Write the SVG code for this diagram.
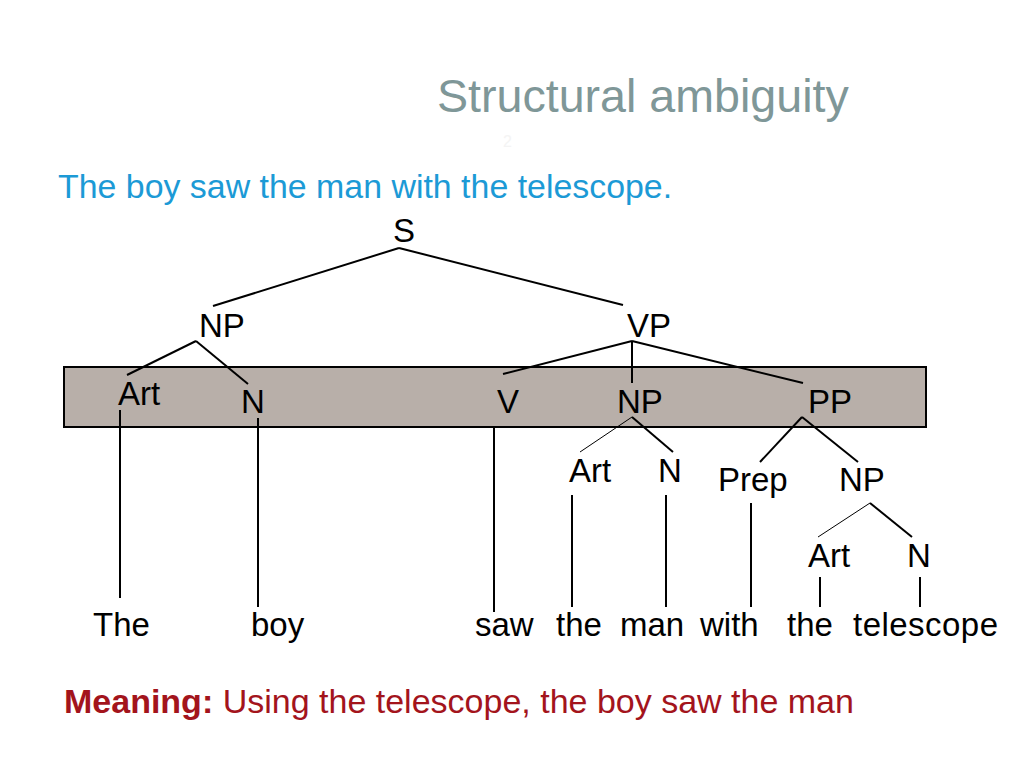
<svg xmlns="http://www.w3.org/2000/svg" width="1024" height="768" viewBox="0 0 1024 768">
<style>
text{font-family:"Liberation Sans",Arial,sans-serif}
.lbl{font-size:33px;fill:#000}
.word{font-size:33px;fill:#000}
.e{stroke:#000;stroke-width:2;fill:none}
.thin{stroke:#000;stroke-width:1;fill:none}
</style>
<rect width="1024" height="768" fill="#fff"/>
<text x="437" y="112" font-size="46.6" fill="#7F9798">Structural ambiguity</text>
<text x="503" y="147" font-size="16" fill="#f4f4f4">2</text>
<text x="58" y="198" font-size="33.9" fill="#1C9AD6">The boy saw the man with the telescope.</text>
<rect id="band" x="64" y="367" width="862" height="60" fill="#B8AFA9" stroke="#000" stroke-width="2"/>
<g id="connectors">
<line class="e" x1="399" y1="248" x2="213" y2="306"/>
<line class="e" x1="399" y1="248" x2="623" y2="305"/>
<line class="e" x1="196" y1="341" x2="127" y2="375"/>
<line class="e" x1="196" y1="341" x2="248" y2="384"/>
<line class="e" x1="632" y1="341" x2="503" y2="374"/>
<line class="e" x1="632" y1="341" x2="632" y2="383"/>
<line class="e" x1="632" y1="341" x2="803" y2="383"/>
<line class="thin" x1="632" y1="417" x2="580" y2="452"/>
<line class="e" x1="632" y1="417" x2="673" y2="452"/>
<line class="e" x1="802" y1="417" x2="760" y2="462"/>
<line class="e" x1="802" y1="417" x2="858" y2="462"/>
<line class="thin" x1="870" y1="503" x2="818" y2="537"/>
<line class="e" x1="870" y1="503" x2="912" y2="537"/>
<line class="e" x1="120" y1="410" x2="120" y2="598"/>
<line class="e" x1="258" y1="418" x2="258" y2="607"/>
<line class="e" x1="494" y1="427" x2="494" y2="612"/>
<line class="e" x1="572" y1="495" x2="572" y2="607"/>
<line class="e" x1="666" y1="495" x2="666" y2="607"/>
<line class="e" x1="751" y1="503" x2="751" y2="607"/>
<line class="e" x1="820" y1="577" x2="820" y2="607"/>
<line class="e" x1="920" y1="577" x2="920" y2="607"/>
</g>
<g id="S"><text class="lbl" x="393" y="242">S</text></g>
<g id="NP1"><text class="lbl" x="199" y="337">NP</text></g>
<g id="VP"><text class="lbl" x="627" y="337">VP</text></g>
<g id="Art1"><text class="lbl" x="118" y="405">Art</text></g>
<g id="N1"><text class="lbl" x="241" y="413">N</text></g>
<g id="V"><text class="lbl" x="497" y="413">V</text></g>
<g id="NP2"><text class="lbl" x="617" y="413">NP</text></g>
<g id="PP"><text class="lbl" x="808" y="413">PP</text></g>
<g id="Art2"><text class="lbl" x="569" y="482">Art</text></g>
<g id="N2"><text class="lbl" x="658" y="482">N</text></g>
<g id="Prep"><text class="lbl" x="718" y="491">Prep</text></g>
<g id="NP3"><text class="lbl" x="839" y="491">NP</text></g>
<g id="Art3"><text class="lbl" x="808" y="567">Art</text></g>
<g id="N3"><text class="lbl" x="907" y="567">N</text></g>
<g id="words">
<text class="word" x="93" y="636">The</text>
<text class="word" x="251" y="636">boy</text>
<text class="word" x="475" y="636">saw</text>
<text class="word" x="556" y="636">the</text>
<text class="word" x="620" y="636">man</text>
<text class="word" x="700" y="636">with</text>
<text class="word" x="787" y="636">the</text>
<text class="word" x="853" y="636" textLength="145">telescope</text>
</g>
<text x="64" y="713" font-size="34" fill="#A3141C"><tspan font-weight="bold">Meaning:</tspan> Using the telescope, the boy saw the man</text>
</svg>
